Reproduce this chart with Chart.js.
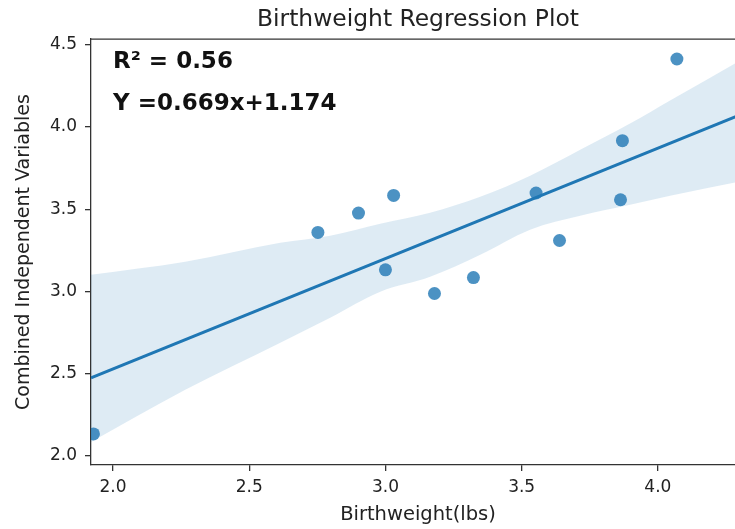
<!DOCTYPE html>
<html>
<head>
<meta charset="utf-8">
<script src="https://cdn.jsdelivr.net/npm/chart.js@4.4.1/dist/chart.umd.min.js"></script>
<style>
  html, body { margin: 0; padding: 0; overflow: hidden; background: #fff; }
  #wrap { width: 760px; height: 529px; }
</style>
</head>
<body>
<div id="wrap"><canvas id="regPlot" width="760" height="529"></canvas></div>
<script>
// Scatter points (birthweight vs combined independent variables)
const birthWeight = [1.928, 2.752, 2.901, 3.030, 3.000, 3.180, 3.323, 3.553, 3.639, 3.863, 3.870, 4.070];
const combinedVars = [2.134, 3.359, 3.477, 3.584, 3.132, 2.988, 3.085, 3.599, 3.310, 3.558, 3.917, 4.414];

// Fitted regression line, end points as drawn
const fitX = [1.919, 4.320];
const fitY = [2.475, 4.086];

// Confidence band edges
const bandX = [1.919, 2.265, 2.614, 2.797, 2.981, 3.164, 3.348, 3.531, 3.715, 3.898, 4.045, 4.320];
const bandUpper = [3.102, 3.181, 3.296, 3.339, 3.412, 3.479, 3.576, 3.704, 3.862, 4.021, 4.161, 4.422];
const bandLower = [2.085, 2.402, 2.688, 2.840, 2.998, 3.089, 3.223, 3.376, 3.461, 3.528, 3.582, 3.675];

const xTicks = [2.0, 2.5, 3.0, 3.5, 4.0];
const yTicks = [2.0, 2.5, 3.0, 3.5, 4.0, 4.5];

const annotations = ['R\u00b2 = 0.56', 'Y =0.669x+1.174'];
const annotX = 2.0;
const annotY = [4.36, 4.105];

const toPoints = (xs, ys) => xs.map((x, i) => ({ x: x, y: ys[i] }));

const FONT = 'DejaVu Sans';
const TEXT = '#222';
const SPINE = '#333';

// top spine + bold regression text
const frameAndText = {
  id: 'frameAndText',
  afterDatasetsDraw(chart) {
    const { ctx, chartArea, scales } = chart;
    ctx.save();
    ctx.strokeStyle = SPINE;
    ctx.lineWidth = 1.3;
    ctx.beginPath();
    ctx.moveTo(chartArea.left, chartArea.top);
    ctx.lineTo(chartArea.right, chartArea.top);
    ctx.stroke();
    ctx.fillStyle = '#111';
    ctx.font = 'bold 23px "' + FONT + '"';
    ctx.textBaseline = 'alphabetic';
    ctx.textAlign = 'left';
    annotations.forEach((t, i) => {
      ctx.fillText(t, scales.x.getPixelForValue(annotX), scales.y.getPixelForValue(annotY[i]));
    });
    ctx.restore();
  }
};

const ctx = document.getElementById('regPlot').getContext('2d');
const regPlot = new Chart(ctx, {
  type: 'scatter',
  data: {
    datasets: [
      {
        label: 'Data',
        data: toPoints(birthWeight, combinedVars),
        backgroundColor: 'rgba(31, 119, 180, 0.8)',
        borderWidth: 0,
        pointRadius: 6.5,
        order: 1,
        clip: 0
      },
      {
        type: 'line',
        label: 'Fit',
        data: toPoints(fitX, fitY),
        borderColor: '#1f77b4',
        borderWidth: 3,
        pointRadius: 0,
        fill: false,
        order: 0,
        clip: 0
      },
      {
        type: 'line',
        label: 'CI upper',
        data: toPoints(bandX, bandUpper),
        borderWidth: 0,
        borderColor: 'rgba(0,0,0,0)',
        backgroundColor: 'rgba(31, 119, 180, 0.15)',
        pointRadius: 0,
        cubicInterpolationMode: 'monotone',
        fill: '+1',
        order: 2,
        clip: 0
      },
      {
        type: 'line',
        label: 'CI lower',
        data: toPoints(bandX, bandLower),
        borderWidth: 0,
        borderColor: 'rgba(0,0,0,0)',
        pointRadius: 0,
        cubicInterpolationMode: 'monotone',
        fill: false,
        order: 3,
        clip: 0
      }
    ]
  },
  options: {
    responsive: false,
    animation: false,
    layout: { padding: { top: 0, right: 15, bottom: 0, left: 0 } },
    plugins: {
      legend: { display: false },
      tooltip: { enabled: false },
      title: {
        display: true,
        text: 'Birthweight Regression Plot',
        fullSize: false,
        color: TEXT,
        font: { family: FONT, size: 23.4, weight: 'normal' },
        padding: { top: 6, bottom: 5 }
      }
    },
    scales: {
      x: {
        type: 'linear',
        min: 1.919,
        max: 4.320,
        afterBuildTicks: (scale) => { scale.ticks = xTicks.map(v => ({ value: v })); },
        afterFit: (scale) => { scale.height = 64; },
        grid: { drawOnChartArea: false, drawTicks: true, tickLength: 6, color: SPINE, lineWidth: 1.3 },
        border: { display: true, color: SPINE, width: 1.3 },
        ticks: {
          color: TEXT,
          padding: 6,
          maxRotation: 0,
          font: { family: FONT, size: 17 },
          callback: (v) => Number(v).toFixed(1)
        },
        title: {
          display: true,
          text: 'Birthweight(lbs)',
          color: TEXT,
          font: { family: FONT, size: 19.5 },
          padding: { top: 0, bottom: 2 }
        }
      },
      y: {
        type: 'linear',
        min: 1.945,
        max: 4.535,
        afterBuildTicks: (scale) => { scale.ticks = yTicks.map(v => ({ value: v })); },
        afterFit: (scale) => { scale.width = 91; },
        grid: { drawOnChartArea: false, drawTicks: true, tickLength: 6, color: SPINE, lineWidth: 1.3 },
        border: { display: true, color: SPINE, width: 1.3 },
        ticks: {
          color: TEXT,
          padding: 8,
          font: { family: FONT, size: 17 },
          callback: (v) => Number(v).toFixed(1)
        },
        title: {
          display: true,
          text: 'Combined Independent Variables',
          color: TEXT,
          font: { family: FONT, size: 19 },
          padding: { top: 13, bottom: 0 }
        }
      }
    }
  },
  plugins: [frameAndText]
});
</script>
</body>
</html>
